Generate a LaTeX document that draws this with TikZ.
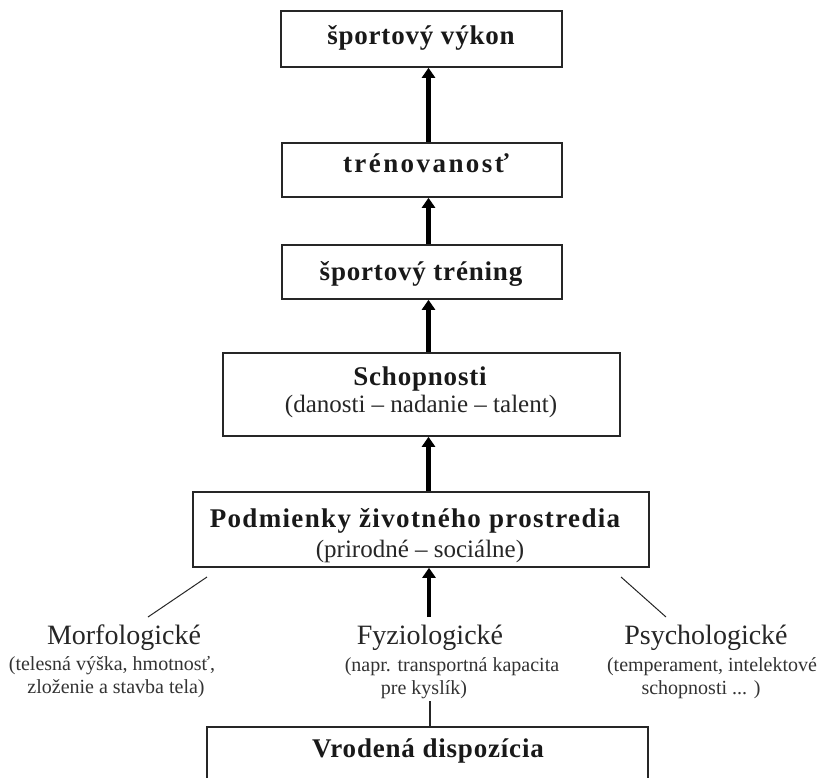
\documentclass[tikz,border=0pt]{standalone}
\usepackage{fontspec}
\setmainfont{Liberation Serif}
\usetikzlibrary{arrows.meta}
\begin{document}
\begin{tikzpicture}[x=1pt,y=-1pt,
  box/.style={draw=black!85, line width=1.6pt, rectangle, inner sep=0pt},
  ttl/.style={anchor=base, inner sep=0pt, text=black!90,
    font={\fontsize{27}{31}\selectfont\bfseries\addfontfeatures{LetterSpace=3}}},
  sub/.style={anchor=base, inner sep=0pt, text=black!85,
    font={\fontsize{25}{29}\selectfont}},
  lbl/.style={anchor=base, inner sep=0pt, text=black!85,
    font={\fontsize{28}{32}\selectfont}},
  det/.style={anchor=base, inner sep=0pt, text=black!80,
    font={\fontsize{20}{23}\selectfont}},
  arr/.style={-{Triangle[width=13pt,length=10pt]}, line width=4.5pt, black},
  thin/.style={line width=1pt, black!85}
]
\clip (0,0) rectangle (824,778);
\fill[white] (0,0) rectangle (824,778);

% column of boxes
\node[box, minimum width=281pt, minimum height=56pt] (b1) at (421.5,39) {};
\node[box, minimum width=280pt, minimum height=54pt] (b2) at (422,170) {};
\node[box, minimum width=280pt, minimum height=54pt] (b3) at (422,272) {};
\node[box, minimum width=397pt, minimum height=83pt] (b4) at (421.5,394.5) {};
\node[box, minimum width=456pt, minimum height=75pt] (b5) at (421,529.5) {};
\node[box, minimum width=441pt, minimum height=80pt, anchor=north] (b6) at (427.5,726) {};

% box texts
\node[ttl] (b1t) at (421,45) {športový výkon};
\node[ttl, font={\fontsize{27}{31}\selectfont\bfseries\addfontfeatures{LetterSpace=9}}] (b2t) at (426,173) {trénovanosť};
\node[ttl] (b3t) at (421,280) {športový tréning};
\node[ttl] (b4t) at (420,385) {Schopnosti};
\node[sub] (b4s) at (421,412) {(danosti – nadanie – talent)};
\node[ttl, font={\fontsize{27}{31}\selectfont\bfseries\addfontfeatures{LetterSpace=5}}] (b5t) at (415,527) {Podmienky životného prostredia};
\node[sub] (b5s) at (420,557) {(prirodné – sociálne)};
\node[ttl] (b6t) at (428,757) {Vrodená dispozícia};

% the three groups of dispositions
\node[lbl] (morf) at (124,644) {Morfologické};
\node[det] (morf1) at (112,670) {(telesná výška, hmotnosť,};
\node[det] (morf2) at (116,693) {zloženie a stavba tela)};

\node[lbl] (fyz) at (430,644) {Fyziologické};
\node[det] (fyz1) at (452,671) {(napr. transportná kapacita};
\node[det] (fyz2) at (424,694) {pre kyslík)};

\node[lbl] (psy) at (706,644) {Psychologické};
\node[det] (psy1) at (712,671) {(temperament, intelektové};
\node[det] (psy2) at (701,694) {schopnosti ... )};

% connectors
\coordinate (ax) at (428.5,0);
\draw[arr] (b2.north -| ax) -- (b1.south -| ax);
\draw[arr] (b3.north -| ax) -- (b2.south -| ax);
\draw[arr] (b4.north -| ax) -- (b3.south -| ax);
\draw[arr] (b5.north -| ax) -- (b4.south -| ax);
\coordinate (fyzTop) at (429,617);
\draw[arr] (fyzTop) -- (b5.south -| fyzTop);

\coordinate (mA) at (207,577);
\coordinate (mB) at (148,617);
\draw[thin] (mA) -- (mB);
\coordinate (pA) at (621,577);
\coordinate (pB) at (666,617);
\draw[thin] (pA) -- (pB);

\coordinate (fyzBot) at (430,701);
\draw[thin, line width=1.4pt] (fyzBot) -- (b6.north -| fyzBot);
\end{tikzpicture}
\end{document}
